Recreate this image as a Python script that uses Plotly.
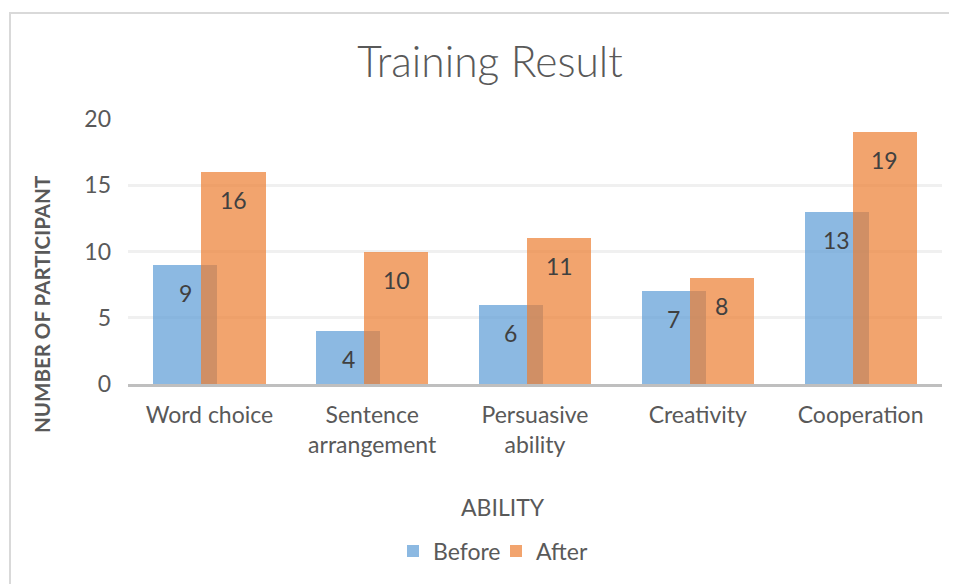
import plotly.graph_objects as go

categories = ["Word choice", "Sentence<br>arrangement", "Persuasive<br>ability", "Creativity", "Cooperation"]
before = [9, 4, 6, 7, 13]
after = [16, 10, 11, 8, 19]
y_ticks = [0, 5, 10, 15, 20]

W, H = 957, 584
OFF = 8  # page body offset
L, R, T, B = 128 - OFF, W - (942 - OFF), 119 - OFF, H - (384 - OFF)
pw = W - L - R
ph = H - T - B

def px_x(p):
    return (p - OFF - L) / pw

def px_y(p):
    return (H - B - (p - OFF)) / ph

pos = list(range(len(categories)))
bw = 0.394
shift = 0.1476

blue = "rgba(91,155,213,0.70)"
orange = "rgba(237,125,49,0.70)"
font_fam = "Lato, Carlito, 'Open Sans', sans-serif"

fig = go.Figure()
fig.add_trace(go.Bar(x=pos, y=before, name="Before", width=bw, offset=-shift - bw / 2,
                     marker=dict(color=blue, line=dict(width=0)), hoverinfo="y"))
fig.add_trace(go.Bar(x=pos, y=after, name="After", width=bw, offset=shift - bw / 2,
                     marker=dict(color=orange, line=dict(width=0)), hoverinfo="y"))

annotations = []
for i, v in enumerate(before):
    annotations.append(dict(x=pos[i] - shift, y=v, xref="x", yref="y", text=str(v), showarrow=False,
                            yshift=-28, font=dict(family=font_fam, size=23, color="#404040")))
for i, v in enumerate(after):
    annotations.append(dict(x=pos[i] + shift, y=v, xref="x", yref="y", text=str(v), showarrow=False,
                            yshift=-28, font=dict(family=font_fam, size=23, color="#404040")))

annotations.append(dict(x=px_x(42), y=px_y(305), xref="paper", yref="paper", text="NUMBER OF PARTICIPANT",
                        textangle=-90, showarrow=False, xanchor="center", yanchor="middle",
                        font=dict(family=font_fam, size=20.5, color="#595959", weight="bold")))
annotations.append(dict(x=px_x(503), y=px_y(507), xref="paper", yref="paper", text="ABILITY",
                        showarrow=False, xanchor="center", yanchor="middle",
                        font=dict(family=font_fam, size=23, color="#595959")))

fig.update_layout(
    width=W, height=H,
    margin=dict(l=L, r=R, t=T, b=B, autoexpand=False),
    paper_bgcolor="white", plot_bgcolor="white",
    barmode="overlay",
    title=dict(text="Training Result", x=(490 - OFF) / W, xref="container", xanchor="center",
               y=1 - (62 - OFF) / H, yref="container", yanchor="middle",
               font=dict(family="'Lato Light', Lato, sans-serif", size=42.5, color="#595959", weight=300)),
    xaxis=dict(range=[-0.5, len(categories) - 0.5], tickvals=pos, ticktext=categories,
               showgrid=False, showline=True, linecolor="#BFBFBF", linewidth=3, ticks="",
               ticklabelstandoff=8, zeroline=False,
               tickfont=dict(family=font_fam, size=23, color="#595959")),
    yaxis=dict(range=[0, 20], tickvals=y_ticks, showgrid=True, gridcolor="#F0F0F0", gridwidth=2.5,
               zeroline=False, showline=False, ticks="", ticklabelstandoff=16,
               tickfont=dict(family=font_fam, size=23, color="#595959")),
    legend=dict(orientation="h", x=px_x(496), xanchor="center", y=px_y(551), yanchor="middle",
                font=dict(family=font_fam, size=23, color="#595959"), itemwidth=30,
                entrywidth=58, traceorder="normal"),
    annotations=annotations,
    shapes=[dict(type="rect", xref="paper", yref="paper", x0=px_x(10), x1=px_x(1000),
                 y0=px_y(700), y1=px_y(13), line=dict(color="#D9D9D9", width=2), layer="below")],
    bargap=0,
)

fig.write_html("out.html")
